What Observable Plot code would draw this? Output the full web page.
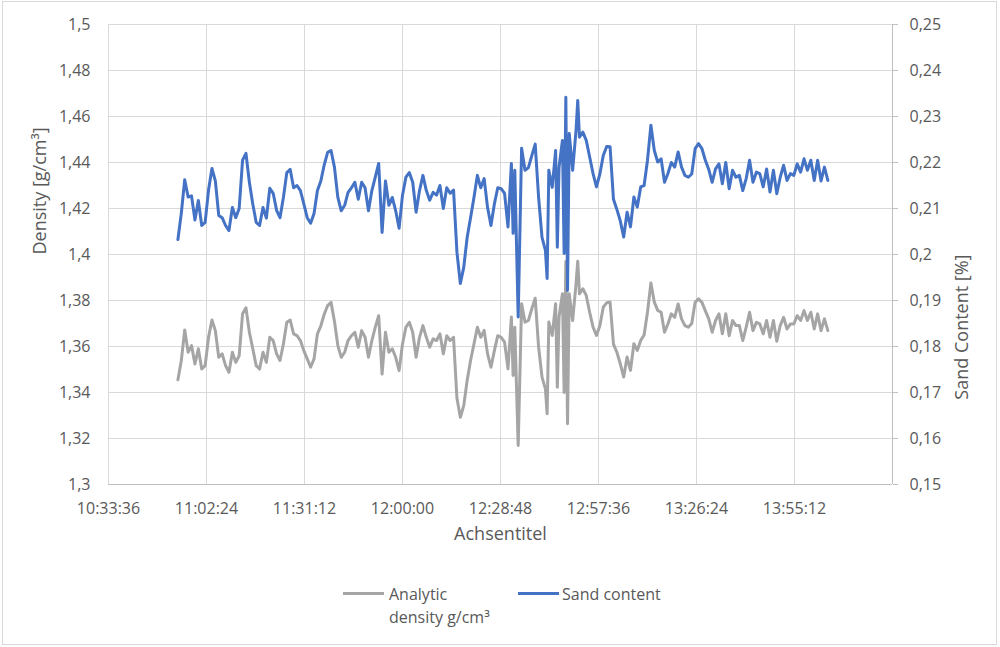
<!DOCTYPE html>
<html><head><meta charset="utf-8">
<script src="https://cdn.jsdelivr.net/npm/d3@7"></script>
<script src="https://cdn.jsdelivr.net/npm/@observablehq/plot@0.6"></script>
<style>
html,body{margin:0;padding:0;background:#fff;}
#wrap{position:relative;width:1000px;height:647px;overflow:hidden;font-family:"Open Sans",sans-serif;color:#595959;}
#border{position:absolute;left:2px;top:1px;width:995px;height:644px;border:1px solid #d9d9d9;box-sizing:border-box;}
#chart{position:absolute;left:0;top:0;}
.sw{position:absolute;height:3px;width:41px;}
.lt{position:absolute;font-size:16px;line-height:23px;}
</style></head>
<body><div id="wrap"><div id="border"></div><div id="chart"></div><div id="legend"></div></div>
<script>
const times = [
"10:54:00","10:55:00","10:56:00","10:57:00","10:58:00","10:59:00","11:00:00","11:01:00","11:02:00","11:03:00",
"11:04:00","11:05:00","11:06:00","11:07:00","11:08:00","11:09:00","11:10:00","11:11:00","11:12:00","11:13:00",
"11:14:00","11:15:00","11:16:00","11:17:00","11:18:00","11:19:00","11:20:00","11:21:00","11:22:00","11:23:00",
"11:24:00","11:25:00","11:26:00","11:27:00","11:28:00","11:29:00","11:30:00","11:31:00","11:32:00","11:33:00",
"11:34:00","11:35:00","11:36:00","11:37:00","11:38:00","11:39:00","11:40:00","11:41:00","11:42:00","11:43:00",
"11:44:00","11:45:00","11:46:00","11:47:00","11:48:00","11:49:00","11:50:00","11:51:00","11:52:00","11:53:00",
"11:54:00","11:55:00","11:56:00","11:57:00","11:58:00","11:59:00","12:00:00","12:01:00","12:02:00","12:03:00",
"12:04:00","12:05:00","12:06:00","12:07:00","12:08:00","12:09:00","12:10:00","12:11:00","12:12:00","12:13:00",
"12:14:00","12:15:00","12:16:00","12:17:00","12:18:00","12:19:00","12:20:00","12:21:00","12:22:00","12:23:00",
"12:24:00","12:25:00","12:26:00","12:27:00","12:28:00","12:29:00","12:30:00","12:31:00","12:32:00","12:32:30","12:33:00",
"12:34:00","12:35:00","12:36:00","12:37:00","12:38:00","12:39:00","12:40:00","12:41:00","12:42:00","12:42:30","12:43:00",
"12:44:00","12:45:00","12:45:30","12:46:00","12:47:00","12:47:30","12:48:00","12:48:30","12:49:00","12:50:00","12:51:00","12:51:30","12:52:00","12:53:00",
"12:54:00","12:55:00","12:56:00","12:57:00","12:58:00","12:59:00","13:00:00","13:01:00","13:02:00","13:03:00",
"13:04:00","13:05:00","13:06:00","13:07:00","13:08:00","13:09:00","13:10:00","13:11:00","13:12:00","13:13:00",
"13:14:00","13:15:00","13:16:00","13:17:00","13:18:00","13:19:00","13:20:00","13:21:00","13:22:00","13:23:00",
"13:24:00","13:25:00","13:26:00","13:27:00","13:28:00","13:29:00","13:30:00","13:31:00","13:32:00","13:33:00",
"13:34:00","13:35:00","13:36:00","13:37:00","13:38:00","13:39:00","13:40:00","13:41:00","13:42:00","13:43:00",
"13:44:00","13:45:00","13:46:00","13:47:00","13:48:00","13:49:00","13:50:00","13:51:00","13:52:00","13:53:00",
"13:54:00","13:55:00","13:56:00","13:57:00","13:58:00","13:59:00","14:00:00","14:01:00","14:02:00","14:03:00",
"14:04:00","14:05:00"
];
// Analytic density [g/cm³] (left axis)
const density = [
1.3455,1.3539,1.3672,1.3575,1.3604,1.3524,1.359,1.3502,1.3517,1.364,
1.3715,1.3669,1.3553,1.3568,1.3517,1.3488,1.3575,1.3531,1.356,1.3742,
1.3768,1.3662,1.359,1.3517,1.3502,1.3575,1.3531,1.364,1.3626,1.3568,
1.3539,1.3611,1.3705,1.3715,1.3655,1.3647,1.3626,1.3582,1.3546,1.351,
1.3546,1.3655,1.369,1.374,1.3778,1.3792,1.371,1.3604,1.3553,1.3575,
1.3626,1.3647,1.3662,1.3597,1.3669,1.364,1.3553,1.3626,1.3684,1.3734,
1.348,1.3662,1.3575,1.359,1.3553,1.3495,1.3611,1.3684,1.3705,1.3662,
1.3553,1.364,1.3691,1.364,1.3597,1.3633,1.3626,1.3655,1.3568,1.3647,
1.3626,1.364,1.3375,1.3292,1.3343,1.3452,1.3539,1.3611,1.3684,1.364,
1.367,1.3568,1.351,1.3582,1.3647,1.364,1.3619,1.3503,1.3728,1.3474,1.3684,
1.317,1.3786,1.3706,1.3713,1.3764,1.381,1.3597,1.3467,1.3416,1.3308,1.3706,
1.3648,1.3786,1.3423,1.3728,1.3829,1.340,1.397,1.3264,1.3829,1.3713,1.3873,1.3971,1.3829,1.3851,
1.3822,1.3749,1.3684,1.3648,1.369,1.3771,1.379,1.3793,1.361,1.3575,
1.3525,1.3467,1.3554,1.3496,1.3612,1.3583,1.3626,1.365,1.375,1.3876,
1.3793,1.3757,1.3749,1.3662,1.3698,1.3742,1.3727,1.3785,1.372,1.3691,
1.3684,1.370,1.3792,1.3807,1.3792,1.3755,1.372,1.3662,1.3713,1.3742,
1.3655,1.3742,1.3647,1.3713,1.3691,1.3691,1.3626,1.3684,1.3749,1.3669,
1.3705,1.3698,1.3655,1.3713,1.364,1.3713,1.3623,1.3691,1.3727,1.3676,
1.3698,1.3698,1.3734,1.3713,1.3756,1.3713,1.3749,1.3676,1.3742,1.3669,
1.372,1.3669
];
// Sand content [%] (right axis)
const sand = [
0.20325,0.209,0.21625,0.2125,0.21275,0.2075,0.21175,0.2063,0.207,0.214,
0.2187,0.216,0.2085,0.208,0.2063,0.2052,0.2102,0.208,0.21,0.2205,
0.222,0.2157,0.211,0.207,0.2063,0.2102,0.2079,0.2144,0.2133,0.2096,
0.208,0.2124,0.2178,0.2185,0.2145,0.215,0.2139,0.211,0.208,0.2068,
0.2089,0.2139,0.216,0.2195,0.2222,0.2226,0.219,0.2124,0.2095,0.2107,
0.2135,0.2145,0.2157,0.212,0.2157,0.2145,0.2095,0.2139,0.2168,0.2198,
0.2048,0.216,0.2107,0.2124,0.2095,0.2057,0.2129,0.2168,0.2178,0.2157,
0.2092,0.2139,0.2172,0.2139,0.2118,0.2135,0.2129,0.215,0.21,0.2145,
0.2133,0.214,0.2005,0.1937,0.1972,0.2037,0.208,0.2124,0.2172,0.2145,
0.2165,0.2102,0.2063,0.211,0.2145,0.2143,0.2133,0.206,0.2198,0.2046,0.2183,
0.1864,0.2231,0.2183,0.2189,0.2215,0.224,0.2124,0.2037,0.2009,0.1948,0.2183,
0.2146,0.2226,0.2016,0.2189,0.2248,0.2002,0.2342,0.1922,0.2263,0.2183,0.227,0.2335,0.2255,0.2266,
0.2248,0.2212,0.2176,0.2147,0.2175,0.2215,0.2235,0.2234,0.212,0.2098,
0.2073,0.2038,0.2092,0.206,0.2125,0.2103,0.2147,0.215,0.2205,0.2281,
0.2226,0.2201,0.2208,0.2157,0.2176,0.22,0.219,0.2223,0.219,0.2172,
0.2168,0.2175,0.223,0.2241,0.223,0.2205,0.2185,0.2157,0.2186,0.2197,
0.2154,0.22,0.2143,0.2183,0.2168,0.2172,0.2139,0.2165,0.2205,0.2157,
0.2179,0.2176,0.2147,0.2186,0.2136,0.2183,0.2132,0.2168,0.2194,0.2161,
0.2176,0.2172,0.2197,0.2179,0.2208,0.2183,0.2205,0.2161,0.2205,0.216,
0.219,0.2161
];
const leftTicks = [1.3,1.32,1.34,1.36,1.38,1.4,1.42,1.44,1.46,1.48,1.5];
const rightTicks = [0.15,0.16,0.17,0.18,0.19,0.2,0.21,0.22,0.23,0.24,0.25];
const xTickLabels = ["10:33:36","11:02:24","11:31:12","12:00:00","12:28:48","12:57:36","13:26:24","13:55:12"];
const xEndLabel = "14:24:00";
const seriesNames = ["Analytic density g/cm³","Sand content"];
const seriesColors = ["#a5a5a5","#4472c4"];
const axisTitles = {left:"Density [g/cm³]", right:"Sand Content [%]", bottom:"Achsentitel"};

const parseT = s => new Date(`2000-01-01T${s}Z`);
const rows = times.map((t,i)=>({time: parseT(t), density: density[i], sand: sand[i]}));
const xTicks = xTickLabels.map(parseT);
const xEnd = parseT(xEndLabel);
const xGrid = [...xTicks, xEnd];
const toLeft = v => 1 + 2*v; // right axis 0.15–0.25 shares the frame with left 1.3–1.5
const fmt = v => String(v).replace(".", ",");
const rightPos = rightTicks.map(toLeft);
const rightLabel = new Map(rightPos.map((p,i)=>[p, fmt(rightTicks[i])]));

const chart = Plot.plot({
  width:1000, height:560,
  marginLeft:108, marginRight:108, marginTop:24, marginBottom:76,
  style:{fontFamily:'"Open Sans", sans-serif', fontSize:"16px", color:"#595959", background:"transparent", overflow:"visible"},
  x:{type:"utc", domain:[xTicks[0], xEnd]},
  y:{domain:[1.3,1.5]},
  marks:[
    Plot.gridY(leftTicks,{stroke:"#d9d9d9", strokeOpacity:1}),
    Plot.gridX(xGrid,{stroke:"#d9d9d9", strokeOpacity:1}),
    Plot.ruleY([1.3],{stroke:"#bfbfbf"}),
    Plot.ruleX([xEnd],{stroke:"#bfbfbf"}),
    Plot.axisY(leftTicks,{anchor:"left", tickSize:0, tickPadding:18, tickFormat:fmt, label:null, fill:"#595959"}),
    Plot.axisY(rightPos,{anchor:"right", tickSize:5, tickPadding:12, stroke:"#bfbfbf", fill:"#595959", tickFormat:d=>rightLabel.get(d), label:null}),
    Plot.axisX(xTicks,{anchor:"bottom", tickSize:0, tickPadding:18, tickFormat:d3.utcFormat("%H:%M:%S"), label:null, fill:"#595959"}),
    Plot.lineY(rows,{x:"time", y:"density", stroke:seriesColors[0], strokeWidth:3}),
    Plot.lineY(rows,{x:"time", y:d=>toLeft(d.sand), stroke:seriesColors[1], strokeWidth:3}),
    Plot.text([axisTitles.left],{text:d=>d, frameAnchor:"left", rotate:-90, dx:-68, fontSize:18, fill:"#595959"}),
    Plot.text([axisTitles.right],{text:d=>d, frameAnchor:"right", rotate:-90, dx:70, fontSize:18, fill:"#595959"}),
    Plot.text([axisTitles.bottom],{text:d=>d, frameAnchor:"bottom", dy:55, fontSize:18, fill:"#595959"})
  ]
});
document.getElementById("chart").appendChild(chart);

// legend below the plot
const legend = document.getElementById("legend");
const legendPos = [{sw:343, tx:389, w:112},{sw:518, tx:562, w:140}];
seriesNames.forEach((name,i)=>{
  const s = document.createElement("div");
  s.className = "sw"; s.style.left = legendPos[i].sw+"px"; s.style.top = "592px"; s.style.background = seriesColors[i];
  const t = document.createElement("div");
  t.className = "lt"; t.style.left = legendPos[i].tx+"px"; t.style.top = "583px"; t.style.width = legendPos[i].w+"px";
  t.textContent = name;
  legend.appendChild(s); legend.appendChild(t);
});
</script>
</body></html>
